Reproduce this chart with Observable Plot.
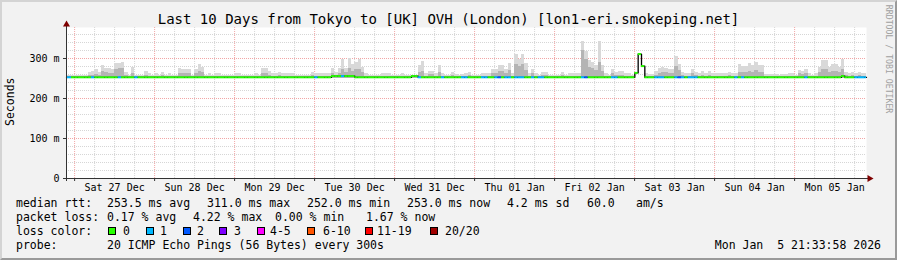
<!DOCTYPE html>
<html><head><meta charset="utf-8">
<script src="https://cdn.jsdelivr.net/npm/d3@7"></script>
<script src="https://cdn.jsdelivr.net/npm/@observablehq/plot@0.6"></script>
<style>
html,body{margin:0;padding:0;background:#f2f2f2;}
#wrap{position:relative;width:897px;height:260px;background:#f2f2f2;overflow:hidden;font-family:"DejaVu Sans Mono",monospace;color:#000;}
#wrap svg{position:absolute;left:0;top:0;}
.t{position:absolute;white-space:pre;line-height:1;font-size:11.5px;}
.sw{position:absolute;width:8px;height:8px;box-sizing:border-box;border:1px solid #000;}
#border{position:absolute;left:0;top:0;width:897px;height:260px;box-sizing:border-box;border-style:solid;border-width:2px;border-color:#d4d4d4 #9a9a9a #9a9a9a #d4d4d4;pointer-events:none;}
</style>
</head><body>
<div id="wrap"></div>
<script>
// ---------- data (hourly samples, ms) ----------
const pingMax = [
258,258,258,258,258,258,265,267,273,265,282,276,
276,272,287,288,291,265,258,278,258,258,258,267,
262,258,263,258,265,258,262,258,258,275,272,272,
272,258,272,285,278,258,263,258,262,262,258,258,
258,258,263,263,258,258,258,258,262,258,275,275,
267,263,263,265,262,262,262,263,258,258,258,258,
258,265,262,262,262,262,262,275,265,275,298,275,
301,284,290,298,278,263,258,258,258,258,262,262,
262,258,258,258,262,258,258,258,258,282,292,263,
268,268,263,283,262,258,258,265,260,258,260,262,
265,258,258,258,262,262,262,272,272,282,282,272,
288,262,309,298,309,288,262,272,262,258,265,265,
258,258,258,258,265,258,262,262,262,262,342,317,
295,290,282,342,282,262,258,273,265,267,267,262,
262,258,0,0,0,262,260,260,267,276,278,276,
272,272,305,284,265,262,262,273,265,262,267,263,
267,262,262,262,262,262,265,262,262,284,280,280,
287,282,290,282,282,260,260,260,260,258,260,260,
262,262,258,270,267,272,262,258,262,278,295,295,
278,284,284,278,297,265,263,265,262,265,262,262];
const pingMid = [
255,255,255,255,255,255,258,258,260,258,267,265,
262,262,272,275,275,258,255,262,255,255,255,258,
256,255,256,255,258,255,256,255,255,262,262,262,
262,255,262,268,266,255,256,255,256,256,255,255,
255,255,256,256,255,255,255,255,256,255,262,262,
258,256,256,258,256,256,256,256,255,255,255,255,
255,258,256,256,256,256,256,262,258,262,272,265,
275,268,272,272,265,256,255,255,255,255,256,256,
256,255,255,255,256,255,255,255,255,266,268,256,
260,260,256,265,256,255,255,258,256,255,256,256,
258,255,255,255,256,256,256,262,262,268,268,262,
270,256,285,280,285,270,256,262,256,255,258,258,
255,255,255,255,258,255,256,256,256,256,320,298,
278,275,270,290,268,256,255,262,258,258,258,256,
256,255,0,0,0,256,256,256,258,262,265,265,
262,262,280,270,258,256,256,262,258,256,258,256,
258,256,256,256,256,256,258,256,256,265,265,265,
268,265,270,265,265,256,256,256,256,255,256,256,
256,256,255,262,260,262,256,255,256,265,272,272,
265,268,268,265,272,258,256,258,256,258,256,256];
const median = [
253,253,253,253,253,253,253,253,253,253,253,253,
253,253,253,253,253,253,253,253,253,253,253,253,
253,253,253,253,253,253,253,253,253,253,253,253,
253,253,253,253,253,253,253,253,253,253,253,253,
253,253,253,253,253,253,253,253,253,253,253,253,
253,253,253,253,253,253,253,253,253,253,253,253,
253,253,253,253,253,253,253,256,256,256,256,256,
256,256,253,253,253,253,253,253,253,253,253,253,
253,253,253,253,253,253,253,256,256,253,253,253,
253,253,253,253,253,253,253,253,253,253,253,253,
253,253,253,253,253,253,253,253,253,253,253,253,
253,253,253,253,253,253,253,253,253,253,253,253,
253,253,253,253,253,253,253,253,253,253,253,253,
253,253,253,253,253,253,253,253,253,253,253,253,
253,253,264,311,281,253,253,253,253,253,253,253,
253,253,253,253,253,253,253,253,253,253,253,253,
253,253,253,253,253,253,253,253,253,253,253,253,
253,253,253,253,253,253,253,253,253,253,253,253,
253,253,253,253,253,253,253,253,253,253,253,253,
253,253,253,253,256,253,253,253,253,253,253,253];
const lostPings = [
1,0,0,0,0,0,0,1,0,0,0,0,
0,0,0,1,0,0,0,0,1,0,0,0,
0,0,0,0,0,0,0,0,0,0,0,0,
0,0,0,0,0,0,0,0,0,0,0,0,
0,0,0,0,0,0,0,0,0,0,0,0,
0,0,0,0,0,0,0,0,0,0,0,0,
0,0,1,0,0,0,0,0,0,0,1,0,
0,0,0,0,0,0,0,0,0,0,0,0,
0,0,0,0,0,0,0,0,0,1,0,0,
0,0,0,0,1,0,0,0,0,0,1,1,
0,0,0,0,1,1,0,0,1,2,0,1,
1,0,1,1,1,0,0,1,0,1,1,0,
0,0,0,0,0,0,0,0,0,0,1,2,
0,0,0,0,0,0,0,1,1,0,0,0,
0,0,0,0,0,0,0,0,1,1,1,0,
0,0,1,2,1,0,1,1,1,0,0,0,
0,0,0,0,0,0,0,0,1,0,1,0,
0,0,0,0,0,0,0,0,0,0,0,0,
0,0,0,0,0,1,0,0,0,0,0,0,
0,0,0,0,0,0,0,0,1,1,1,1];
const pingMin = 251;

const yTicks = [0, 100, 200, 300];
const yTickLabels = ["0", "100 m", "200 m", "300 m"];
const dayDates = ["2025-12-27","2025-12-28","2025-12-29","2025-12-30","2025-12-31","2026-01-01","2026-01-02","2026-01-03","2026-01-04","2026-01-05"];
const dayLabels = ["Sat 27 Dec","Sun 28 Dec","Mon 29 Dec","Tue 30 Dec","Wed 31 Dec","Thu 01 Jan","Fri 02 Jan","Sat 03 Jan","Sun 04 Jan","Mon 05 Jan"];

const lossThresholds = [0, 1, 2, 3, 4, 6, 11, 20];
const lossColors = ["#26ff00","#00b8ff","#0059ff","#7e00ff","#ff00ff","#ff5500","#ff0000","#a00000"];
const lossLabels = ["0","1","2","3","4-5","6-10","11-19","20/20"];

const titleText = "Last 10 Days from Tokyo to [UK] OVH (London) [lon1-eri.smokeping.net]";
const rttStats = ["median rtt:", "253.5 ms avg", "311.0 ms max", "252.0 ms min", "253.0 ms now", "4.2 ms sd", "60.0", "am/s"];
const lossStats = ["packet loss:", "0.17 % avg", "4.22 % max", "0.00 % min", "1.67 % now"];
const probeText = ["probe:", "20 ICMP Echo Pings (56 Bytes) every 300s"];
const stampText = "Mon Jan  5 21:33:58 2026";

// ---------- build ----------
const HOUR = 3600e3;
const START = Date.UTC(2025, 11, 26, 21, 33, 58);
const END = Date.UTC(2026, 0, 5, 21, 33, 58);
const YMAX = 377.5;

const bins = pingMax.map((hi, i) => ({
  t0: new Date(i === 0 ? START : START + (i + 0.5) * HOUR),
  t1: new Date(Math.min(START + (i + 1.5) * HOUR, END)),
  hi, mid: pingMid[i], med: median[i], loss: lostPings[i]
}));
const lossColor = (n) => { let k = 0; lossThresholds.forEach((t, j) => { if (n >= t) k = j; }); return lossColors[k]; };
const linePts = bins.map(d => ({t: d.t0, v: d.med})).concat([{t: new Date(END), v: median[median.length - 1]}]);

const midnights = d3.utcDay.range(new Date(START), new Date(END));
const minorX = d3.utcHour.every(6).range(new Date(START), new Date(END)).filter(d => d.getUTCHours() !== 0);
const minorY = d3.range(20, YMAX, 20).filter(v => v % 100 !== 0);
const majorY = yTicks.filter(v => v > 0);
const noons = dayDates.map(s => new Date(Date.parse(s + "T12:00:00Z")));

const FONT = "DejaVu Sans Mono";
const minorCol = "#d6d6d6", majorCol = "#f2a6a6", axisCol = "#333", arrowCol = "#7f0000";

const plot = Plot.plot({
  width: 897, height: 260,
  marginLeft: 66, marginRight: 31, marginTop: 27, marginBottom: 82,
  x: {type: "utc", domain: [new Date(START), new Date(END)], axis: null},
  y: {domain: [0, YMAX], axis: null},
  color: {type: "identity"},
  style: {background: "transparent", fontFamily: FONT, fontSize: "10px", color: "#000", overflow: "visible"},
  marks: [
    Plot.frame({fill: "white", stroke: "none"}),
    Plot.ruleY(minorY, {stroke: minorCol, strokeDasharray: "1,1"}),
    Plot.ruleX(minorX, {stroke: minorCol, strokeDasharray: "1,1"}),
    Plot.ruleY(majorY, {stroke: majorCol, strokeDasharray: "1,1"}),
    Plot.ruleX(midnights, {stroke: majorCol, strokeDasharray: "1,1"}),
    Plot.rectY(bins.filter(d => d.hi > 0), {x1: "t0", x2: "t1", y1: pingMin, y2: "hi", fill: "#d9d9d9", shapeRendering: "crispEdges"}),
    Plot.rectY(bins.filter(d => d.mid > 0), {x1: "t0", x2: "t1", y1: pingMin, y2: "mid", fill: "#b4b4b4", shapeRendering: "crispEdges"}),
    Plot.line(linePts, {x: "t", y: "v", curve: "step-after", stroke: "#000", strokeWidth: 1.3}),
    Plot.ruleY(bins, {y: "med", x1: "t0", x2: "t1", stroke: d => lossColor(d.loss), strokeWidth: 2}),
    // axes
    Plot.ruleX([new Date(START)], {stroke: axisCol, insetTop: -3, insetBottom: -3}),
    Plot.ruleY([0], {stroke: axisCol, insetLeft: -3, insetRight: -2}),
    Plot.ruleX(midnights, {y1: 0, y2: 0, insetBottom: -3, stroke: axisCol}),
    Plot.ruleY(yTicks, {x1: new Date(START), x2: new Date(START), insetLeft: -3, stroke: axisCol}),
    Plot.dot([0], {x: () => new Date(END), y: () => 0, symbol: "triangle", rotate: 90, r: 2.6, fill: arrowCol, stroke: "none", dx: 3}),
    Plot.dot([0], {x: () => new Date(START), y: () => YMAX, symbol: "triangle", r: 2.6, fill: arrowCol, stroke: "none", dy: -3}),
    Plot.text(yTicks, {x: () => new Date(START), y: d => d, text: (d, i) => yTickLabels[i], textAnchor: "end", dx: -7, fontSize: 10, fill: "#000"}),
    Plot.text(noons, {x: d => d, y: () => 0, dy: 9, text: (d, i) => dayLabels[i], fontSize: 10, fill: "#000"})
  ]
});

const wrap = document.getElementById("wrap");
wrap.appendChild(plot);

function addText(str, x, baseline, size, extra) {
  const el = document.createElement("div");
  el.className = "t";
  el.textContent = str;
  el.style.fontSize = size + "px";
  el.style.left = x + "px";
  el.style.top = (baseline - 0.846 * size) + "px";
  if (extra) Object.assign(el.style, extra);
  wrap.appendChild(el);
  return el;
}
// title
addText(titleText, 0, 24, 14, {width: "897px", textAlign: "center"});
// legend rows
const LS = 11.5;
[16, 107, 207, 307, 407, 507, 587, 636].forEach((x, i) => addText(rttStats[i], x, 207.3, LS));
[16, 107, 193, 275, 366].forEach((x, i) => addText(lossStats[i], x, 221.3, LS));
addText("loss color:", 16, 235.3, LS);
const swX = [108, 146, 183, 219, 257, 307, 365, 430];
const swTextX = [123, 160, 197, 234, 270, 323, 377, 445];
lossColors.forEach((c, i) => {
  const s = document.createElement("div");
  s.className = "sw";
  s.style.left = swX[i] + "px";
  s.style.top = "227.3px";
  s.style.background = c;
  wrap.appendChild(s);
  addText(lossLabels[i], swTextX[i], 235.3, LS);
});
addText(probeText[0], 16, 249.3, LS);
addText(probeText[1], 107, 249.3, LS);
addText(stampText, 0, 249.3, LS, {left: "auto", right: (897 - 881) + "px"});
// y title
const yt = document.createElement("div");
yt.className = "t";
yt.textContent = "Seconds";
Object.assign(yt.style, {fontSize: "11.5px", width: "80px", height: "11.5px", textAlign: "center",
  left: (11 - 40) + "px", top: (102 - 5.75) + "px", transform: "rotate(-90deg)", transformOrigin: "50% 50%"});
wrap.appendChild(yt);
// watermark
const wm = document.createElement("div");
wm.className = "t";
wm.textContent = "RRDTOOL / TOBI OETIKER";
Object.assign(wm.style, {fontSize: "8.2px", width: "120px", height: "8.2px", textAlign: "center", color: "#a0a0a0",
  left: (888.5 - 60) + "px", top: (59 - 4.1) + "px", transform: "rotate(90deg)", transformOrigin: "50% 50%"});
wrap.appendChild(wm);
const b = document.createElement("div");
b.id = "border";
wrap.appendChild(b);
</script>
</body></html>
